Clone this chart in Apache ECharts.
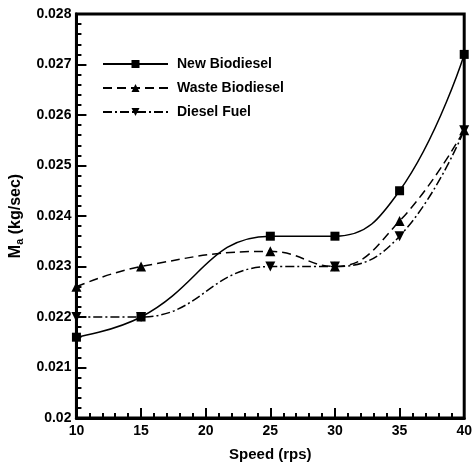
<!DOCTYPE html>
<html><head><meta charset="utf-8">
<script src="https://cdn.jsdelivr.net/npm/echarts@6/dist/echarts.min.js"></script>
<style>html,body{margin:0;padding:0;background:#fff}#c{width:475px;height:474px}</style>
</head><body><div id="c"></div>
<script>
const speeds = [10, 15, 25, 30, 35, 40];
const newBiodiesel = [0.0216, 0.0220, 0.0236, 0.0236, 0.0245, 0.0272];
const wasteBiodiesel = [0.0226, 0.0230, 0.0233, 0.0230, 0.0239, 0.0257];
const dieselFuel = [0.0220, 0.0220, 0.0230, 0.0230, 0.0236, 0.0257];
const seriesNames = ['New Biodiesel', 'Waste Biodiesel', 'Diesel Fuel'];

const font = 'Liberation Sans, Arial, sans-serif';
const chart = echarts.init(document.getElementById('c'), null, {renderer: 'canvas'});
const pair = arr => speeds.map((s, i) => [s, arr[i]]);
const axisCommon = {
  axisLine: {show: true, lineStyle: {color: '#000', width: 3}},
  axisTick: {show: true, inside: true, length: 10, lineStyle: {color: '#000', width: 2}},
  minorTick: {show: true, splitNumber: 5, length: 5, lineStyle: {color: '#000', width: 2}},
  splitLine: {show: false},
  axisLabel: {color: '#000', fontFamily: font, fontWeight: 'bold', fontSize: 14}
};
chart.setOption({
  animation: false,
  backgroundColor: '#fff',
  grid: {left: 76, right: 4, top: 14, bottom: 56, show: true, borderColor: '#000', borderWidth: 3},
  legend: {
    left: 102, top: 57, orient: 'vertical', itemWidth: 65, itemHeight: 10, itemGap: 10, padding: 0,
    data: seriesNames,
    textStyle: {color: '#000', fontFamily: font, fontWeight: 'bold', fontSize: 14, padding: [0, 0, 0, 4]}
  },
  xAxis: Object.assign({}, axisCommon, {
    type: 'value', min: 10, max: 40, interval: 5,
    name: 'Speed (rps)', nameLocation: 'middle', nameGap: 29,
    nameTextStyle: {color: '#000', fontFamily: font, fontWeight: 'bold', fontSize: 15},
    axisLabel: Object.assign({}, axisCommon.axisLabel, {margin: 6})
  }),
  yAxis: Object.assign({}, axisCommon, {
    type: 'value', min: 0.020, max: 0.028, interval: 0.001,
    name: '{m|M}{s|a}{m| (kg/sec)}', nameLocation: 'middle', nameGap: 47,
    nameTextStyle: {color: '#000', fontFamily: font, fontWeight: 'bold', fontSize: 16,
      rich: {m: {fontFamily: font, fontWeight: 'bold', fontSize: 16, color: '#000'},
             s: {fontFamily: font, fontWeight: 'bold', fontSize: 11, color: '#000', verticalAlign: 'bottom', padding: [8, 0, 0, 0]}}},
    axisLabel: Object.assign({}, axisCommon.axisLabel, {margin: 5,
      formatter: v => (+v.toFixed(4)).toString()})
  }),
  series: [
    {name: seriesNames[0], type: 'line', data: pair(newBiodiesel), smooth: 0.45,
     symbol: 'rect', symbolSize: 9, itemStyle: {color: '#000'},
     lineStyle: {color: '#000', width: 1.5, type: 'solid'}},
    {name: seriesNames[1], type: 'line', data: pair(wasteBiodiesel), smooth: 0.45,
     symbol: 'triangle', symbolSize: 10, itemStyle: {color: '#000'},
     lineStyle: {color: '#000', width: 1.5, type: [9, 5]}},
    {name: seriesNames[2], type: 'line', data: pair(dieselFuel), smooth: 0.45,
     symbol: 'triangle', symbolRotate: 180, symbolSize: 10, itemStyle: {color: '#000'},
     lineStyle: {color: '#000', width: 1.5, type: [9, 3, 2, 3]}}
  ]
});
</script></body></html>
